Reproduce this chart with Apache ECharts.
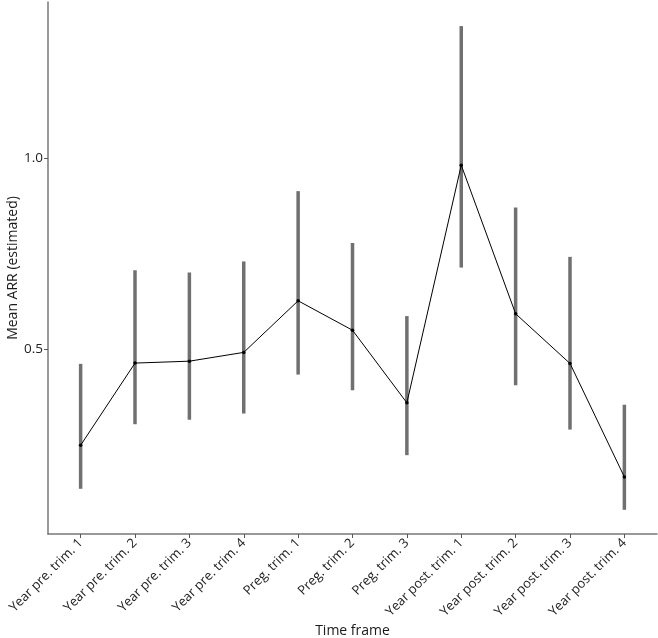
<!DOCTYPE html>
<html>
<head>
<meta charset="utf-8">
<script src="https://cdn.jsdelivr.net/npm/echarts@6/dist/echarts.min.js"></script>
<style>html,body{margin:0;padding:0;background:#fff}#c{width:658px;height:638px}</style>
</head>
<body>
<div id="c"></div>
<script>
const categories = ["Year pre. trim. 1","Year pre. trim. 2","Year pre. trim. 3","Year pre. trim. 4","Preg. trim. 1","Preg. trim. 2","Preg. trim. 3","Year post. trim. 1","Year post. trim. 2","Year post. trim. 3","Year post. trim. 4"];
const meanARR = [0.249, 0.464, 0.469, 0.492, 0.627, 0.550, 0.360, 0.982, 0.593, 0.463, 0.166];
const lowerCI = [0.135, 0.304, 0.316, 0.332, 0.434, 0.393, 0.223, 0.714, 0.406, 0.290, 0.080];
const upperCI = [0.462, 0.707, 0.701, 0.730, 0.914, 0.778, 0.587, 1.346, 0.871, 0.742, 0.355];
const yTicks = [0.5, 1.0];

const idx = categories.map((_, i) => i);
const chart = echarts.init(document.getElementById('c'), null, {renderer: 'canvas'});
const font = '"Open Sans", "Noto Sans", sans-serif';
chart.setOption({
  animation: false,
  grid: {left: 48, right: 1, top: 2, bottom: 104, containLabel: false, outerBoundsMode: 'none'},
  xAxis: {
    type: 'value', min: -0.6, max: categories.length - 0.4,
    name: 'Time frame', nameLocation: 'middle', nameGap: 90, nameMoveOverlap: false,
    nameTextStyle: {fontFamily: font, fontSize: 14, color: '#1a1a1a'},
    axisLine: {show: true, onZero: false, lineStyle: {color: '#777', width: 1.5}},
    axisTick: {show: true, customValues: idx, length: 4, lineStyle: {color: '#555', width: 1}},
    axisLabel: {customValues: idx, rotate: 45, margin: 7, fontFamily: font, fontSize: 13, color: '#222',
      formatter: v => categories[Math.round(v)]},
    splitLine: {show: false}
  },
  yAxis: {
    type: 'value', min: 0.0167, max: 1.409,
    name: 'Mean ARR (estimated)', nameLocation: 'middle', nameGap: 28, nameMoveOverlap: false,
    nameTextStyle: {fontFamily: font, fontSize: 14, color: '#1a1a1a'},
    axisLine: {show: true, onZero: false, lineStyle: {color: '#777', width: 1.5}},
    axisTick: {show: true, customValues: yTicks, length: 4, lineStyle: {color: '#555', width: 1}},
    axisLabel: {customValues: yTicks, margin: 5, fontFamily: font, fontSize: 13.5, color: '#222',
      formatter: v => v.toFixed(1)},
    splitLine: {show: false}
  },
  series: [
    {
      type: 'custom',
      data: idx.map(i => [i, lowerCI[i], upperCI[i]]),
      renderItem: (params, api) => {
        const a = api.coord([api.value(0), api.value(1)]);
        const b = api.coord([api.value(0), api.value(2)]);
        return {type: 'line', shape: {x1: a[0], y1: a[1], x2: b[0], y2: b[1]},
          style: {stroke: '#707070', lineWidth: 3.5}};
      },
      z: 1
    },
    {
      type: 'line',
      data: idx.map(i => [i, meanARR[i]]),
      symbol: 'circle', symbolSize: 3.5,
      itemStyle: {color: '#000'},
      lineStyle: {color: '#000', width: 1},
      z: 2
    }
  ]
});
</script>
</body>
</html>
